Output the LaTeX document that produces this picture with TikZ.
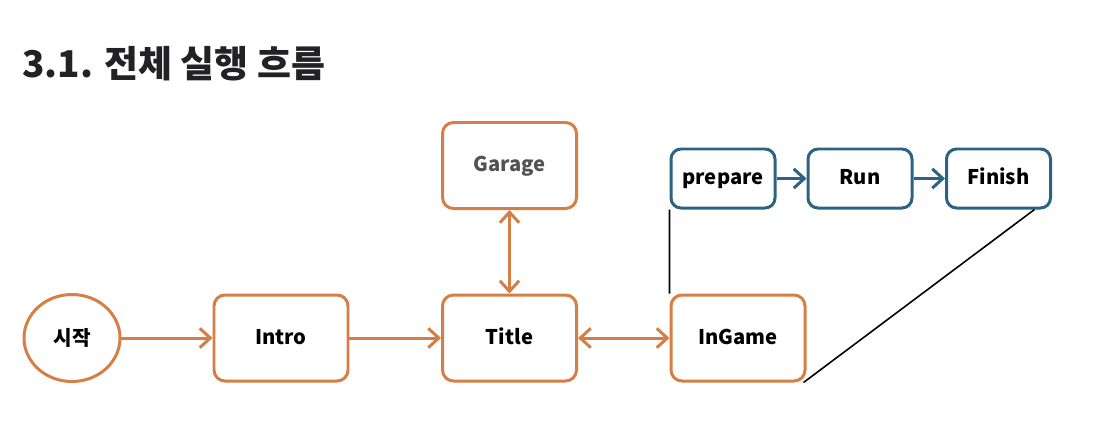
\documentclass[tikz,border=0pt]{standalone}
\usepackage{fontspec}
\setmainfont{Noto Sans CJK KR}
\usepackage{tikz}
\usetikzlibrary{shapes.geometric, arrows.meta, positioning}
\definecolor{flow}{RGB}{213,126,70}
\definecolor{game}{RGB}{46,98,130}
\definecolor{heading}{RGB}{34,34,38}
\tikzstyle{start} = [ellipse, minimum width=1.92cm, minimum height=1.74cm, text centered, draw=flow, line width=1.7pt, font=\fontsize{11.5}{13}\selectfont\bfseries]
\tikzstyle{process} = [rectangle, rounded corners=0.22cm, minimum width=2.68cm, minimum height=1.72cm, text centered, text height=0.95em, text depth=0.22em, draw=flow, line width=1.7pt, font=\fontsize{11.5}{13}\selectfont\bfseries]
\tikzstyle{stage} = [rectangle, rounded corners=0.2cm, minimum width=2.08cm, minimum height=1.18cm, text centered, text height=0.95em, text depth=0.22em, draw=game, line width=1.7pt, font=\fontsize{11.5}{13}\selectfont\bfseries]
\tikzstyle{arrow} = [flow, line width=1.7pt, -{Straight Barb[length=6pt, width=11pt]}]
\tikzstyle{twoway} = [flow, line width=1.7pt, {Straight Barb[length=6pt, width=11pt]}-{Straight Barb[length=6pt, width=11pt]}]
\tikzstyle{garrow} = [game, line width=1.7pt, -{Straight Barb[length=6pt, width=11pt]}]
\tikzstyle{link} = [black, line width=0.9pt]

\begin{document}
\begin{tikzpicture}[node distance=4.57cm]
\useasboundingbox (0,0) rectangle (21.94,-8.48);
\node (heading) [anchor=base west, text=heading, inner sep=0pt, font=\fontsize{21}{24}\selectfont\bfseries] at (0.44,-1.54) {3.1. 전체 실행 흐름};
% main flow
\node (start) [start] at (1.44,-6.76) {시작};
\node (intro) [process] at (5.62,-6.76) {Intro};
\node (title) [process, right of=intro] {Title};
\node (ingame) [process, right of=title] {InGame};
\node (garage) [process, above of=title, node distance=3.45cm, text=black!68] {Garage};
% in game stages
\node (prepare) [stage] at (14.46,-3.57) {prepare};
\node (run) [stage, right of=prepare, node distance=2.74cm] {Run};
\node (finish) [stage, right of=run, node distance=2.77cm] {Finish};
\draw [arrow] (start) -- (intro);
\draw [arrow] (intro) -- (title);
\draw [twoway] (title) -- (ingame);
\draw [twoway] (garage) -- (title);
\draw [garrow] (prepare) -- (run);
\draw [garrow] (run) -- (finish);
\draw [link] (prepare.south west) -- (ingame.north west);
\draw [link] ([xshift=-0.35cm]finish.south east) -- ([xshift=-0.06cm]ingame.south east);
\end{tikzpicture}
\end{document}
